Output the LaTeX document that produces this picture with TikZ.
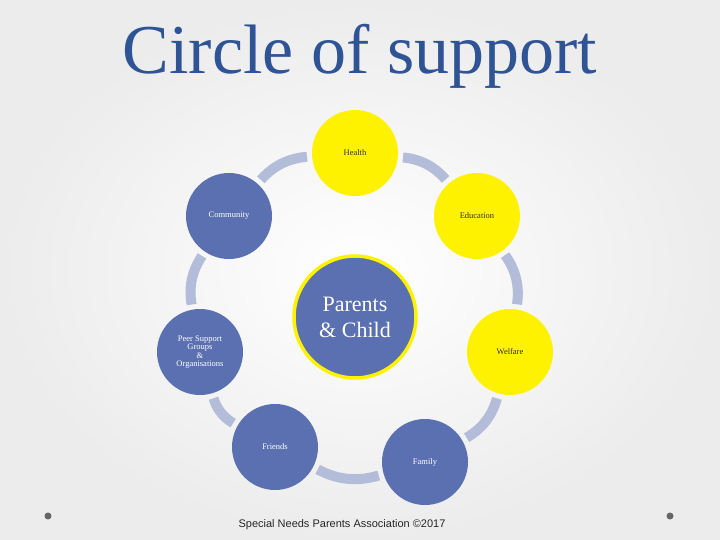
\documentclass[tikz,border=0pt]{standalone}
\usepackage{fontspec}
\setmainfont{Liberation Serif}
\usetikzlibrary{shadings}
\definecolor{nblue}{HTML}{5B70B0}
\definecolor{ring}{HTML}{B3BCD8}
\definecolor{ttl}{HTML}{2F5496}
\begin{document}
\begin{tikzpicture}[x=1pt,y=-1pt,
  bub/.style={circle,minimum size=86pt,inner sep=0pt,align=center,font=\fontsize{8.5}{8.5}\selectfont},
  bluebub/.style={bub,fill=nblue,text=white},
  yelbub/.style={bub,fill=yellow,text=black!80},
  link/.style={ring,line width=10pt,shorten >=5pt,shorten <=5pt}]
\shade[inner color=white,outer color=gray!15] (0,0) rectangle (720,540);
\useasboundingbox (0,0) rectangle (720,540);
\node[text=ttl] (title) at (360,56) {\fontsize{70}{70}\selectfont Circle of support};
\node[yelbub] (health) at (355,153) {Health};
\node[bluebub] (comm) at (229,216) {Community};
\node[yelbub] (edu) at (477,216) {Education};
\node[bluebub] (peer) at (200,352) {Peer Support\\Groups\\\&\\Organisations};
\node[yelbub] (wel) at (510,352) {Welfare};
\node[bluebub] (fri) at (275,447) {Friends};
\node[bluebub] (fam) at (425,462) {Family};
\node[circle,fill=nblue,draw=yellow,line width=3.5pt,minimum size=122pt,text=white,align=center,
  font=\fontsize{22}{26}\selectfont] (pc) at (355,317) {Parents\\\& Child};
\draw[link] (health) to[bend left=22] (edu);
\draw[link] (edu) to[bend left=22] (wel);
\draw[link] (wel) to[bend left=22] (fam);
\draw[link] (fam) to[bend left=22] (fri);
\draw[link] (fri) to[bend left=22] (peer);
\draw[link] (peer) to[bend left=22] (comm);
\draw[link] (comm) to[bend left=22] (health);
\node[circle,fill=gray!80!black,minimum size=7pt,inner sep=0pt] (b1) at (48,516) {};
\node[circle,fill=gray!80!black,minimum size=7pt,inner sep=0pt] (b2) at (670,516) {};
\node[font=\fontspec{Liberation Sans}\fontsize{11}{11}\selectfont,text=black!85] (foot) at (342,525) {Special Needs Parents Association ©2017};
\end{tikzpicture}
\end{document}
